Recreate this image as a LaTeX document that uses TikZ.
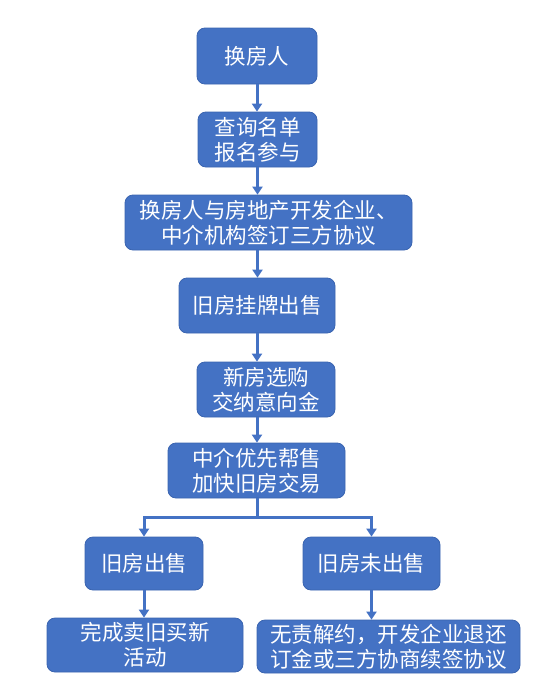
\documentclass[tikz,border=0pt]{standalone}
\usepackage{fontspec}
\newfontfamily\cjk{Noto Sans CJK SC}
\usetikzlibrary{arrows.meta, positioning}
\definecolor{boxblue}{HTML}{4472C4}
\definecolor{boxedge}{HTML}{3A64B0}

\begin{document}
\begin{tikzpicture}[
    x=1pt, y=-1pt,
    font=\cjk\fontsize{21.5}{25}\selectfont,
    box/.style={rectangle, rounded corners=8pt, draw=boxedge, line width=0.8pt,
      fill=boxblue, text=white, align=center, inner sep=0pt},
    arrow/.style={-{Triangle[length=8pt, width=10pt]}, line width=3pt, draw=boxblue},
    link/.style={line width=3pt, draw=boxblue},
  ]
  \useasboundingbox (0,0) rectangle (555,699);

  \node[box, minimum width=120pt, minimum height=56pt] (person)  at (257,56)    {换房人};
  \node[box, minimum width=119pt, minimum height=55pt] (signup)  at (257.5,139.5) {查询名单\\报名参与};
  \node[box, minimum width=287pt, minimum height=55pt] (treaty)  at (268.5,222.5) {换房人与房地产开发企业、\\中介机构签订三方协议};
  \node[box, minimum width=156pt, minimum height=55pt] (listing) at (257,305.5)  {旧房挂牌出售};
  \node[box, minimum width=138pt, minimum height=55pt] (deposit) at (266,389.5)  {新房选购\\交纳意向金};
  \node[box, minimum width=177pt, minimum height=55pt] (agent)   at (256.5,470.5) {中介优先帮售\\加快旧房交易};

  \node[box, minimum width=118pt, minimum height=53pt] (sold)    at (144,563.5) {旧房出售};
  \node[box, minimum width=137pt, minimum height=53pt] (unsold)  at (371.5,563.5) {旧房未出售};
  \node[box, minimum width=196pt, minimum height=54pt] (done)    at (145,645)   {完成卖旧买新\\活动};
  \node[box, minimum width=263pt, minimum height=53pt] (refund)  at (388.5,646.5) {无责解约，开发企业退还\\订金或三方协商续签协议};

  \coordinate (split) at (257,517);

  \draw[arrow] (person) -- (person |- signup.north);
  \draw[arrow] (signup) -- (signup |- treaty.north);
  \draw[arrow] (treaty.south -| signup) -- (signup |- listing.north);
  \draw[arrow] (listing) -- (listing |- deposit.north);
  \draw[arrow] (deposit.south -| listing) -- (listing |- agent.north);
  \draw[link] (agent.south -| split) -- (split);
  \draw[arrow] (split) -| (sold.north);
  \draw[arrow] (split) -| (unsold.north);
  \draw[arrow] (sold) -- (sold |- done.north);
  \draw[arrow] (unsold) -- (unsold |- refund.north);
\end{tikzpicture}
\end{document}
